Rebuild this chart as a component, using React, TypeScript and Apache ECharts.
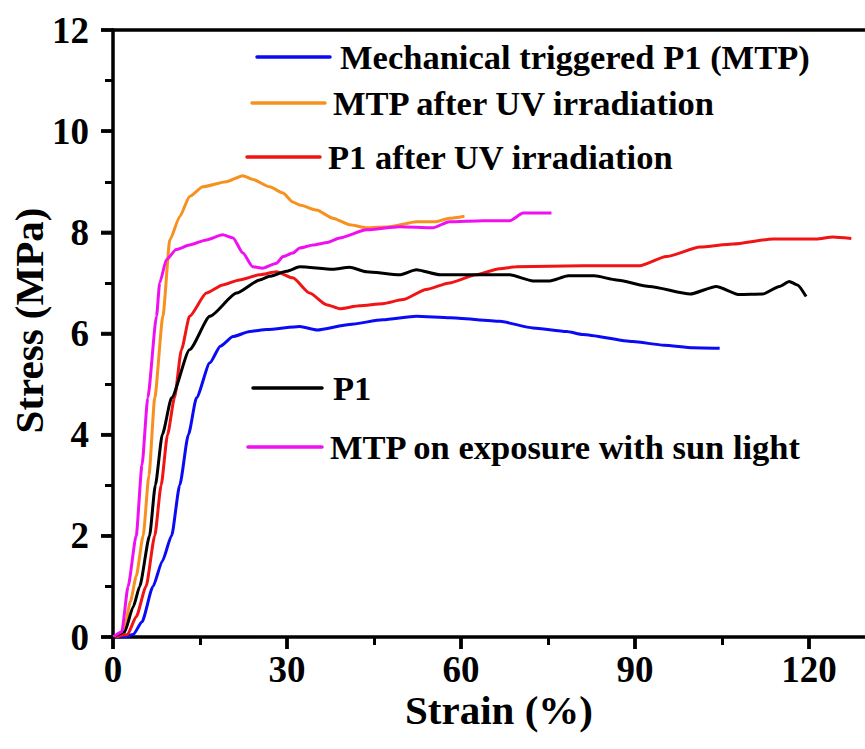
import React, { useEffect, useRef } from "react";
import * as echarts from "echarts";

const seriesNames = [
  "Mechanical triggered P1 (MTP)",
  "MTP after UV irradiation",
  "P1 after UV irradiation",
  "P1",
  "MTP on exposure with sun light",
];
const seriesColors = ["#0a0af5", "#f7901e", "#f01414", "#000000", "#f00ff0"];

const blueMTP: number[][] = [
  [0, 0], [2, 0], [3.5, 0.05], [5, 0.3], [6.9, 1], [8.5, 1.5], [10.1, 2], [11.5, 3], [13, 4],
  [14.4, 4.73], [16.7, 5.42], [18.5, 5.75], [20.7, 5.94], [23.6, 6.04], [26.5, 6.08], [32.2, 6.14],
  [35.2, 6.07], [40.8, 6.18], [46.5, 6.27], [52.3, 6.34], [58.1, 6.31], [66.7, 6.24], [72.4, 6.11],
  [78.2, 6.04], [81, 5.98], [89.6, 5.84], [95, 5.77], [100, 5.72], [104.6, 5.71],
];
const orangeMTPUV: number[][] = [
  [0, 0], [1, 0.02], [2, 0.2], [3, 0.7], [4, 1.2], [5.2, 2], [6.2, 3.2], [7.2, 4.73], [8.6, 6.34],
  [9.8, 7.85], [11.5, 8.31], [13.2, 8.71], [15.5, 8.9], [19.5, 9.0], [22.4, 9.12], [24, 9.05],
  [27, 8.9], [29.3, 8.78], [31, 8.6], [32.2, 8.54], [35.1, 8.44], [37.9, 8.28], [40.8, 8.15],
  [43.7, 8.09], [47.7, 8.11], [52.3, 8.21], [55.7, 8.21], [58, 8.28], [60.6, 8.32],
];
const redP1UV: number[][] = [
  [0, 0], [2.5, 0.05], [4, 0.4], [5.7, 1], [7.2, 2], [8.3, 3], [9.4, 4], [10.6, 4.73], [11.8, 5.68],
  [13.2, 6.34], [16.1, 6.8], [18.9, 6.96], [21.8, 7.06], [25.3, 7.16], [28.2, 7.22], [31, 7.1],
  [33.9, 6.8], [36.8, 6.57], [39.1, 6.49], [42.5, 6.55], [46.5, 6.59], [50, 6.67], [54, 6.87],
  [58, 7.0], [62.6, 7.16], [66.6, 7.28], [69.5, 7.32], [81, 7.34], [90.8, 7.34], [95.4, 7.52],
  [101.2, 7.71], [106.9, 7.77], [113.8, 7.87], [121.3, 7.87], [124.1, 7.91], [127.3, 7.88],
];
const blackP1: number[][] = [
  [0, 0], [2, 0.1], [3.5, 0.6], [4.6, 1], [6.3, 2], [7.3, 3], [8.5, 4], [10.1, 4.73], [13.2, 5.68],
  [16.7, 6.34], [21.3, 6.8], [25.3, 7.06], [27, 7.13], [29.9, 7.23], [32.2, 7.32], [37.9, 7.27],
  [40.8, 7.31], [43.7, 7.22], [49.4, 7.16], [52.3, 7.26], [56.4, 7.16], [63.8, 7.16], [68.4, 7.16],
  [72.4, 7.04], [75.3, 7.04], [78.5, 7.14], [83, 7.14], [86.8, 7.06], [92.5, 6.93], [99.5, 6.78],
  [104, 6.93], [108, 6.77], [112, 6.78], [114.9, 6.93], [116.6, 7.03], [118, 6.96], [119.5, 6.73],
];
const magentaSun: number[][] = [
  [0, 0], [1.5, 0.1], [2.6, 1], [4, 2], [5, 3.4], [6, 4.73], [7.5, 6.34], [8.05, 7.0], [9.2, 7.46],
  [10.9, 7.66], [13.2, 7.75], [16.1, 7.85], [18.9, 7.95], [20.7, 7.89], [22.4, 7.59], [24.1, 7.32],
  [25.8, 7.29], [28.2, 7.39], [29.3, 7.52], [31, 7.59], [32.2, 7.69], [34.5, 7.75], [37, 7.8],
  [39.1, 7.89], [43.7, 8.05], [49.4, 8.11], [55.1, 8.09], [58, 8.21], [63.8, 8.23], [68.4, 8.23],
  [70.7, 8.38], [75.6, 8.38],
];
const seriesData = [blueMTP, orangeMTPUV, redP1UV, blackP1, magentaSun];

const xTicks = [0, 30, 60, 90, 120];
const yTicks = [0, 2, 4, 6, 8, 10, 12];

// legend placement: [lineX1, lineX2, y, textX]
const legendPos = [
  [257, 330, 57, 340],
  [252, 325, 103, 333],
  [247, 320, 157, 328],
  [253, 322, 388, 333],
  [248, 322, 447, 330],
];

const FONT = "'Liberation Serif', 'Times New Roman', serif";

// plot geometry (px)
const PL = 113;
const PT = 30;
const PW = 754;
const PH = 607;
const W = 865;
const H = 749;
const X_MAX = 130;
const Y_MAX = 12;
const TICK_LEN = 12;
const TICK_W = 3.5;

export default function App() {
  const ref = useRef<HTMLDivElement>(null);
  useEffect(() => {
    if (!ref.current) return;
    const chart = echarts.init(ref.current, null, { renderer: "svg" });
    const graphics: any[] = [];
    legendPos.forEach((p, i) => {
      graphics.push({
        type: "line",
        shape: { x1: p[0], y1: p[2], x2: p[1], y2: p[2] },
        style: { stroke: seriesColors[i], lineWidth: 3.5, lineCap: "round" },
        z: 10,
      });
      graphics.push({
        type: "text",
        x: p[3],
        y: p[2],
        style: {
          text: seriesNames[i],
          fontFamily: FONT,
          fontWeight: "bold",
          fontSize: 34.5,
          fill: "#000",
          verticalAlign: "middle",
          align: "left",
        },
        z: 10,
      });
    });
    const labelBase = {
      color: "#000",
      fontFamily: FONT,
      fontWeight: "bold",
      fontSize: 37,
    };
    const lineSeries = seriesData.map((d, i) => ({
      name: seriesNames[i],
      type: "line",
      data: d,
      showSymbol: false,
      symbol: "none",
      smooth: 0.2,
      smoothMonotone: "x",
      lineStyle: { color: seriesColors[i], width: 3 },
      itemStyle: { color: seriesColors[i] },
      z: 3,
    }));
    // major tick marks placed through the axes' own scales
    const tickSeries = [
      {
        type: "scatter",
        data: xTicks.map((v) => [v, 0]),
        symbol: "rect",
        symbolSize: [TICK_W, TICK_LEN],
        symbolOffset: [0, TICK_LEN / 2],
        itemStyle: { color: "#000" },
        clip: false,
        silent: true,
        z: 5,
      },
      {
        type: "scatter",
        data: yTicks.map((v) => [0, v]),
        symbol: "rect",
        symbolSize: [TICK_LEN, TICK_W],
        symbolOffset: [-TICK_LEN / 2, 0],
        itemStyle: { color: "#000" },
        clip: false,
        silent: true,
        z: 5,
      },
    ];
    chart.setOption({
      animation: false,
      backgroundColor: "#fff",
      tooltip: { show: false },
      grid: {
        left: PL,
        top: PT,
        right: W - PL - PW,
        bottom: H - PT - PH,
        containLabel: false,
        outerBoundsMode: "none",
      },
      graphic: graphics,
      xAxis: [
        {
          type: "value",
          min: 0,
          max: X_MAX,
          interval: 30,
          name: "Strain (%)",
          nameLocation: "middle",
          nameGap: 52,
          nameMoveOverlap: false,
          nameTextStyle: { ...labelBase, fontSize: 41, padding: [0, 0, 0, 18] },
          axisLine: { show: true, onZero: false, lineStyle: { color: "#000", width: 3.5 } },
          splitLine: { show: false },
          axisTick: { show: true, inside: false, length: TICK_LEN, lineStyle: { color: "#000", width: TICK_W } },
          minorTick: { show: true, splitNumber: 2, length: 8, lineStyle: { color: "#000", width: 3 } },
          axisLabel: {
            ...labelBase,
            margin: 14,
            showMaxLabel: false,
            formatter: (v: number) => (xTicks.includes(v) ? String(v) : ""),
          },
        },
        {
          type: "value",
          position: "top",
          min: 0,
          max: X_MAX,
          axisLine: { show: true, onZero: false, lineStyle: { color: "#000", width: 3.5 } },
          axisTick: { show: false },
          axisLabel: { show: false },
          splitLine: { show: false },
        },
      ],
      yAxis: {
        type: "value",
        min: 0,
        max: Y_MAX,
        interval: 2,
        name: "Stress (MPa)",
        nameLocation: "middle",
        nameGap: 64,
        nameMoveOverlap: false,
        nameTextStyle: { ...labelBase, fontSize: 41, padding: [0, 0, 0, 26] },
        axisLine: { show: true, onZero: false, lineStyle: { color: "#000", width: 3.5 } },
        splitLine: { show: false },
        axisTick: { show: true, inside: false, length: TICK_LEN, lineStyle: { color: "#000", width: TICK_W } },
        minorTick: { show: true, splitNumber: 2, length: 8, lineStyle: { color: "#000", width: 3 } },
        axisLabel: {
          ...labelBase,
          margin: 24,
          formatter: (v: number) => (yTicks.includes(v) ? String(v) : ""),
        },
      },
      series: [...lineSeries, ...tickSeries],
    });
    return () => chart.dispose();
  }, []);
  return (
    <div
      ref={ref}
      style={{ position: "absolute", left: 0, top: 0, width: W, height: H, background: "#fff" }}
    />
  );
}
